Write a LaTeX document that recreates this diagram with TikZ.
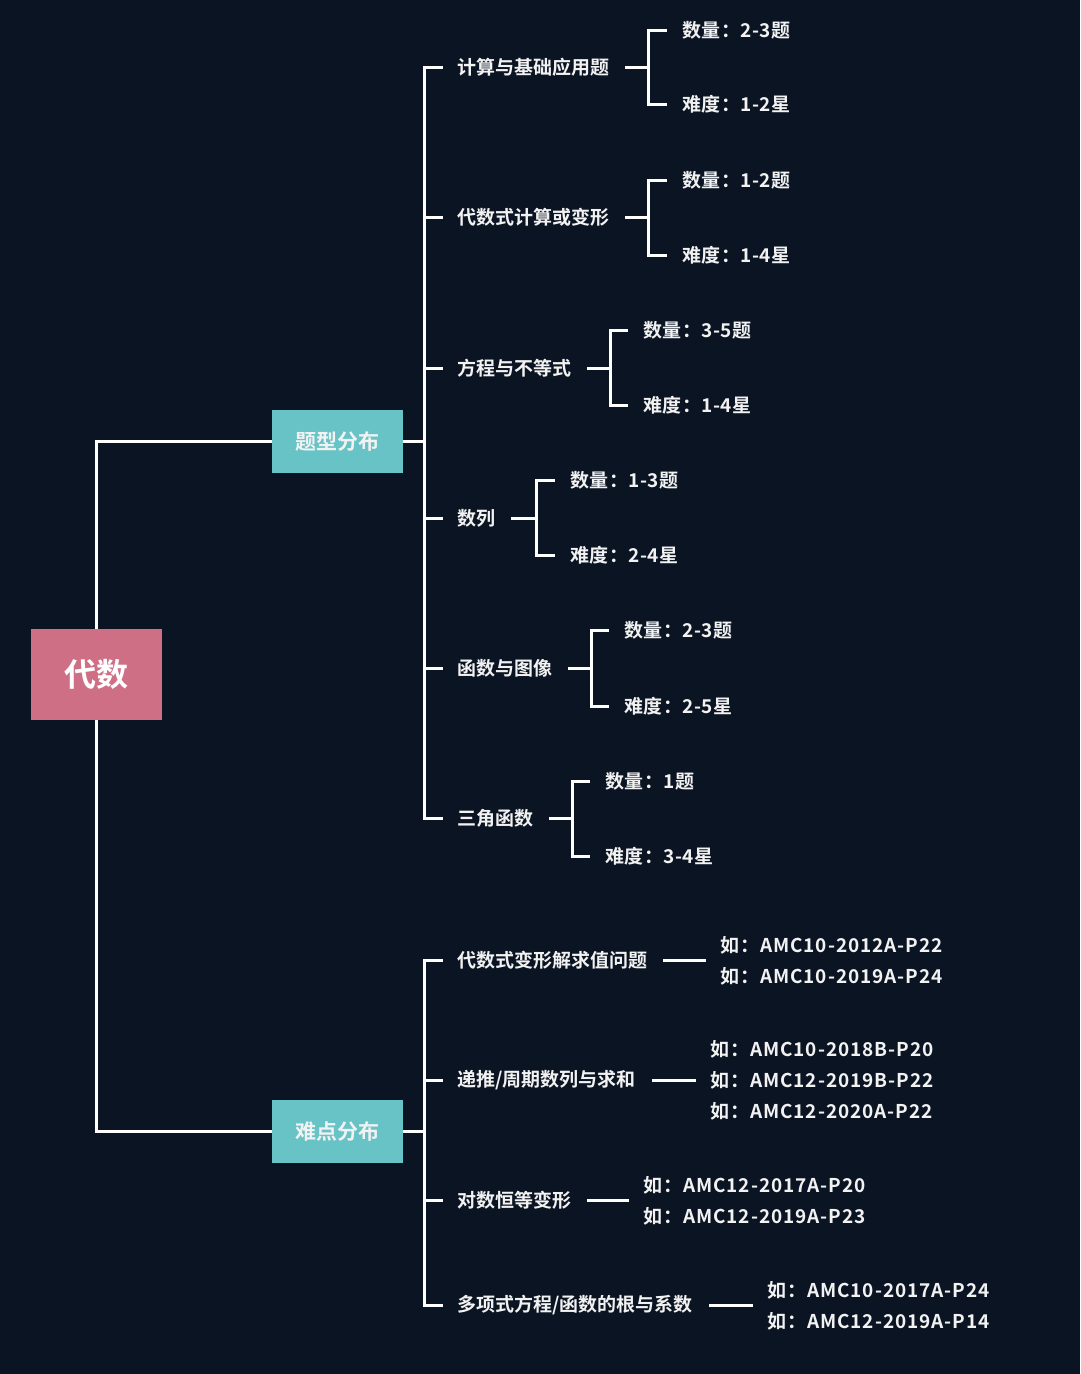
\documentclass[tikz,border=0pt]{standalone}
\usepackage{fontspec}
\newfontfamily\cjk{Noto Sans CJK SC}[BoldFont={* Bold}]
\newfontfamily\cjkleaf{Noto Sans CJK SC}[BoldFont={* Bold}, LetterSpace=2.5]
\newfontfamily\cjkgrp{Noto Sans CJK SC}[BoldFont={* Bold}, LetterSpace=5]
\definecolor{bgc}{HTML}{0B1422}
\definecolor{rootc}{HTML}{CF6F86}
\definecolor{tealc}{HTML}{67C3C6}
\definecolor{txtc}{HTML}{F2F2F2}
\tikzset{
  conn/.style={draw=white, line width=3pt},
  rootbox/.style={fill=rootc, minimum width=131pt, minimum height=91pt, inner sep=0pt,
    text=white, font=\cjk\bfseries\fontsize{32}{36}\selectfont},
  catbox/.style={fill=tealc, minimum width=131pt, minimum height=63pt, inner sep=0pt,
    text=txtc, font=\cjk\bfseries\fontsize{21}{25}\selectfont},
  item/.style={anchor=west, inner sep=0pt, text=txtc, font=\cjk\bfseries\fontsize{19}{23}\selectfont},
  leaf/.style={anchor=west, inner sep=0pt, text=txtc, font=\cjkleaf\bfseries\fontsize{19}{23}\selectfont},
  group/.style={anchor=west, inner sep=0pt, text=txtc, align=left, font=\cjkgrp\bfseries\fontsize{19}{31}\selectfont},
}
\begin{document}
\begin{tikzpicture}[x=1pt,y=-1pt]
\fill[bgc] (0,0) rectangle (1080,1374);
\useasboundingbox (0,0) rectangle (1080,1374);

% main nodes
\node[rootbox] (root) at (96.5,674.5) {代数};
\node[catbox] (t1) at (337.5,441.5) {题型分布};
\node[catbox] (t2) at (337.5,1131.5) {难点分布};

\draw[conn] (root.north) |- (t1.west);
\draw[conn] (root.south) |- (t2.west);

% top children
\node[item] (c1) at (457,67) {计算与基础应用题};
\node[item] (c2) at (457,217) {代数式计算或变形};
\node[item] (c3) at (457,368) {方程与不等式};
\node[item] (c4) at (457,518) {数列};
\node[item] (c5) at (457,668) {函数与图像};
\node[item] (c6) at (457,818) {三角函数};

\coordinate (v1) at (424,441.5);
\foreach \c in {c1,c2,c3,c4,c5,c6}
  \draw[conn, shorten >=14pt] (t1.east) -- (v1) |- (\c.west);

% leaves
\node[leaf] (c1a) at (682,30) {数量：2-3题};
\node[leaf] (c1b) at (682,104) {难度：1-2星};
\node[leaf] (c2a) at (682,180) {数量：1-2题};
\node[leaf] (c2b) at (682,255) {难度：1-4星};
\node[leaf] (c3a) at (643,330) {数量：3-5题};
\node[leaf] (c3b) at (643,405) {难度：1-4星};
\node[leaf] (c4a) at (570,480) {数量：1-3题};
\node[leaf] (c4b) at (570,555) {难度：2-4星};
\node[leaf] (c5a) at (624,630) {数量：2-3题};
\node[leaf] (c5b) at (624,706) {难度：2-5星};
\node[leaf] (c6a) at (605,781) {数量：1题};
\node[leaf] (c6b) at (605,856) {难度：3-4星};

\coordinate (b1) at (648,67);
\coordinate (b2) at (648,217);
\coordinate (b3) at (610,368);
\coordinate (b4) at (536,518);
\coordinate (b5) at (591,668);
\coordinate (b6) at (572,818);

\foreach \i in {1,...,6}{
  \draw[conn, shorten <=16pt] (c\i.east) -- (b\i);
  \draw[conn, shorten >=15pt] (b\i) |- (c\i a.west);
  \draw[conn, shorten >=15pt] (b\i) |- (c\i b.west);
}

% bottom children
\node[item] (d1) at (457,960) {代数式变形解求值问题};
\node[item] (d2) at (457,1080) {递推/周期数列与求和};
\node[item] (d3) at (457,1200) {对数恒等变形};
\node[item] (d4) at (457,1305) {多项式方程/函数的根与系数};

\coordinate (v2) at (424,1131.5);
\foreach \d in {d1,d2,d3,d4}
  \draw[conn, shorten >=14pt] (t2.east) -- (v2) |- (\d.west);

\node[group] (g1) at (720,960.5) {如：AMC10-2012A-P22\\如：AMC10-2019A-P24};
\node[group] (g2) at (710,1080.5) {如：AMC10-2018B-P20\\如：AMC12-2019B-P22\\如：AMC12-2020A-P22};
\node[group] (g3) at (643,1200.5) {如：AMC12-2017A-P20\\如：AMC12-2019A-P23};
\node[group] (g4) at (767,1305.5) {如：AMC10-2017A-P24\\如：AMC12-2019A-P14};

\foreach \i in {1,...,4}
  \draw[conn, shorten <=16pt, shorten >=14pt] (d\i.east) -- (g\i.west |- d\i.east);
\end{tikzpicture}
\end{document}
